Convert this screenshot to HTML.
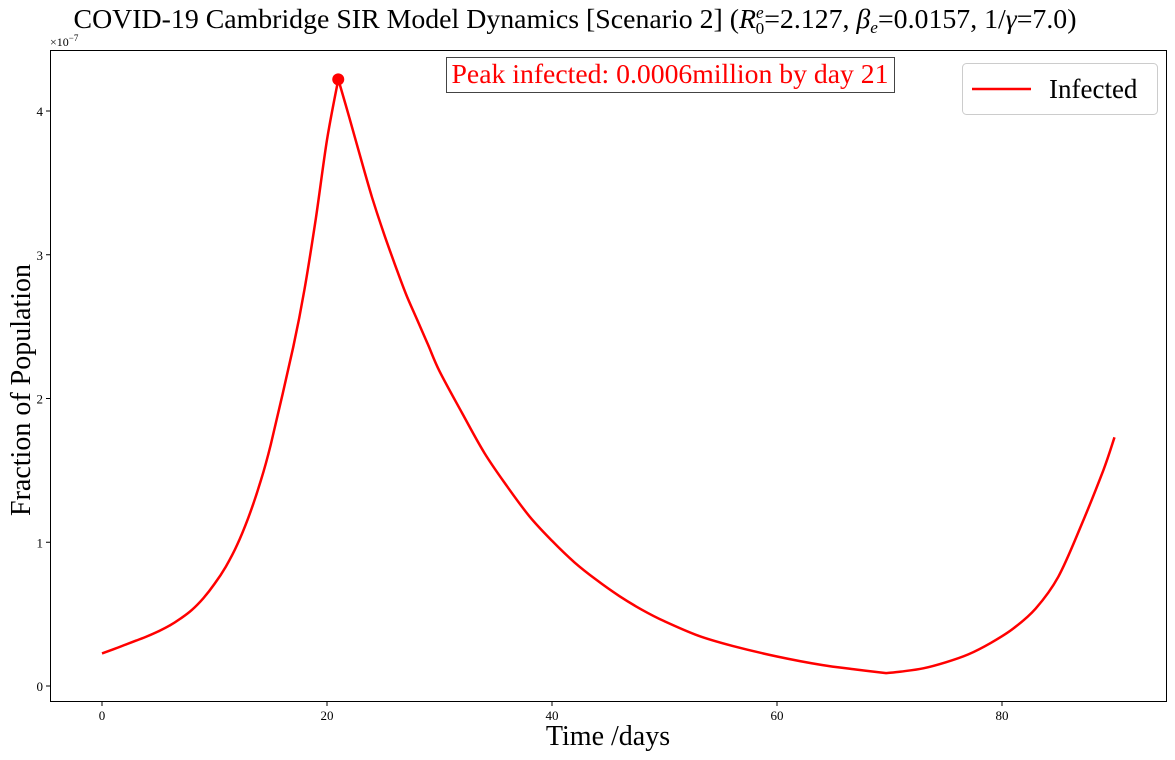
<!DOCTYPE html>
<html><head><meta charset="utf-8"><style>
body{margin:0;background:#fff;}
svg{display:block;font-family:"Liberation Serif","DejaVu Serif",serif;}
</style></head><body>
<svg width="1175" height="760" viewBox="0 0 1175 760">
<text x="575" y="28" text-anchor="middle" font-size="27.5" textLength="1003" lengthAdjust="spacingAndGlyphs">COVID-19 Cambridge SIR Model Dynamics [Scenario 2] (<tspan font-style="italic">R</tspan><tspan font-size="17" dy="-10" font-style="italic">e</tspan><tspan font-size="17" dx="-8" dy="16">0</tspan><tspan dy="-6">=2.127, </tspan><tspan font-style="italic">β</tspan><tspan font-size="17" dy="5" font-style="italic">e</tspan><tspan dy="-5">=0.0157, 1/</tspan><tspan font-style="italic">γ</tspan>=7.0)</text>
<rect x="50.5" y="50.5" width="1116" height="651" fill="none" stroke="#000" stroke-width="1"/>
<text x="50" y="46" font-size="12">×10<tspan font-size="9" dy="-5">−7</tspan></text>
<g id="xticks"></g>
<g id="yticks"></g>
<path id="line" fill="none" stroke="#ff0000" stroke-width="2.5" stroke-linejoin="round"/>
<circle id="peak" r="6" fill="#ff0000"/>
<rect x="446.5" y="57.5" width="448" height="35" fill="#fff" stroke="#444"/>
<text x="670" y="83" text-anchor="middle" font-size="27.5" textLength="437" lengthAdjust="spacingAndGlyphs" fill="#ff0000">Peak infected: 0.0006million by day 21</text>
<rect x="962.5" y="63.5" width="195" height="51" rx="4" fill="#fff" stroke="#ccc"/>
<line x1="972" y1="89" x2="1031" y2="89" stroke="#ff0000" stroke-width="2.5"/>
<text x="1049" y="98" font-size="27">Infected</text>
<text x="608" y="745" text-anchor="middle" font-size="28">Time /days</text>
<text transform="translate(30,390) rotate(-90)" text-anchor="middle" font-size="28">Fraction of Population</text>
</svg>
<script>
const days=[0,1,2,3,4,5,6,7,8,9,10,11,12,13,14,15,17,18,19,20,21,22,23,24,25,26,27,28,29,30,32,34,36,38,40,42,44,46,48,50,53,56,60,64,67,69.7,71,73,75,77,79,81,83,85,87,89,90];
const infected=[0.227,0.255,0.285,0.315,0.345,0.38,0.42,0.47,0.53,0.61,0.71,0.83,0.98,1.17,1.40,1.68,2.36,2.76,3.25,3.80,4.22,3.95,3.67,3.40,3.16,2.94,2.73,2.55,2.37,2.19,1.90,1.62,1.39,1.18,1.01,0.86,0.735,0.625,0.53,0.45,0.35,0.28,0.205,0.146,0.115,0.09,0.10,0.123,0.165,0.22,0.30,0.40,0.54,0.76,1.11,1.50,1.73];
const xTicks=[0,20,40,60,80];
const yTicks=[0,1,2,3,4];
const peakDay=21, peakVal=4.22;
const X=d=>102+d*11.25;
const Y=v=>686-v*143.75;
const NS="http://www.w3.org/2000/svg";
const xg=document.getElementById('xticks'), yg=document.getElementById('yticks');
xTicks.forEach(t=>{
 const l=document.createElementNS(NS,'line');
 
 
 l.setAttribute('x1',X(t));l.setAttribute('x2',X(t));l.setAttribute('y1',702);l.setAttribute('y2',706);l.setAttribute('stroke','#000');
 xg.appendChild(l);
 const tx=document.createElementNS(NS,'text');
 
 
 tx.setAttribute('x',X(t));tx.setAttribute('y',720);tx.setAttribute('text-anchor','middle');tx.setAttribute('font-size','13');
 tx.textContent=t;xg.appendChild(tx);
});
yTicks.forEach(t=>{
 const l=document.createElementNS(NS,'line');
 
 
 l.setAttribute('x1',46);l.setAttribute('x2',50);l.setAttribute('y1',Y(t));l.setAttribute('y2',Y(t));l.setAttribute('stroke','#000');
 yg.appendChild(l);
 const tx=document.createElementNS(NS,'text');
 
 
 tx.setAttribute('x',43);tx.setAttribute('y',Y(t)+5);tx.setAttribute('text-anchor','end');tx.setAttribute('font-size','13');
 tx.textContent=t;yg.appendChild(tx);
});
// smooth Catmull-Rom within segments split at peak and trough (kinks)
const pts=days.map((d,i)=>[X(d),Y(infected[i])]);
const pi=infected.indexOf(Math.max(...infected.slice(0,40)));
let mi=pi;for(let i=pi;i<infected.length;i++){if(infected[i]<infected[mi])mi=i;}
const breaks=[0,pi,mi,pts.length-1];
let d='M'+pts[0][0].toFixed(1)+','+pts[0][1].toFixed(1);
for(let s=0;s<3;s++){
 const a=breaks[s],b=breaks[s+1];
 for(let i=a;i<b;i++){
  const p0=pts[Math.max(a,i-1)],p1=pts[i],p2=pts[i+1],p3=pts[Math.min(b,i+2)];
  const c1=[p1[0]+(p2[0]-p0[0])/6,p1[1]+(p2[1]-p0[1])/6];
  const c2=[p2[0]-(p3[0]-p1[0])/6,p2[1]-(p3[1]-p1[1])/6];
  d+='C'+c1.map(v=>v.toFixed(1)).join(',')+' '+c2.map(v=>v.toFixed(1)).join(',')+' '+p2.map(v=>v.toFixed(1)).join(',');
 }
}
document.getElementById('line').setAttribute('d',d);
const pk=document.getElementById('peak');pk.setAttribute('cx',X(peakDay));pk.setAttribute('cy',Y(peakVal));
</script>
</body></html>
